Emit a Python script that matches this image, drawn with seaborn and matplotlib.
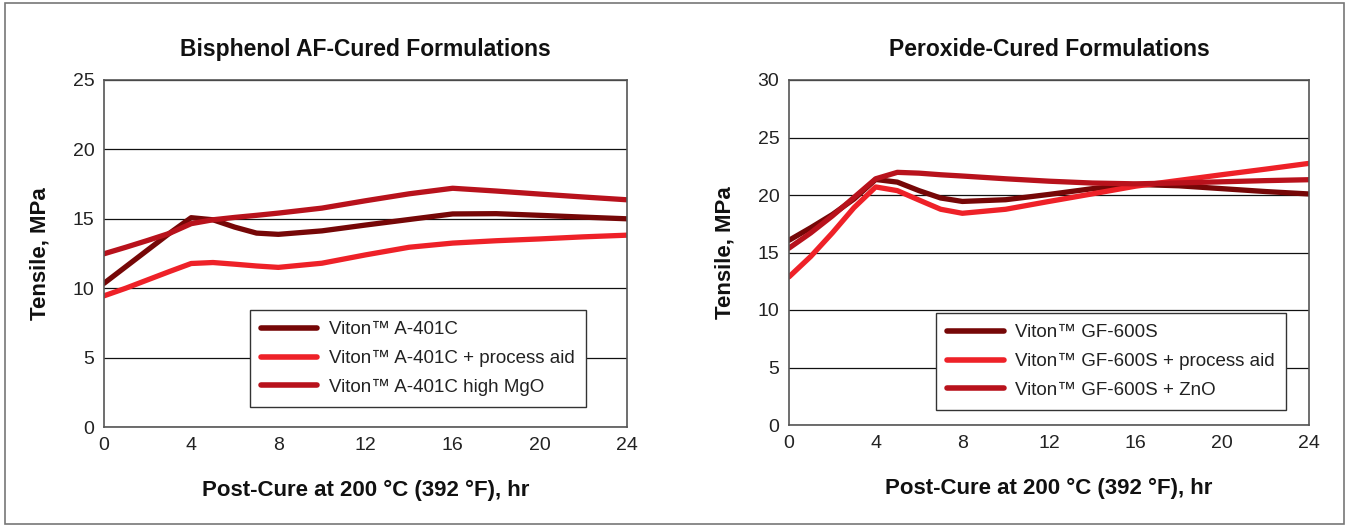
import matplotlib
matplotlib.use("Agg")
import matplotlib.pyplot as plt
import seaborn as sns
import pandas as pd
from matplotlib.patches import Rectangle

hours = [0, 1, 2, 3, 4, 5, 6, 7, 8, 10, 12, 14, 16, 18, 20, 22, 24]

# Bisphenol AF-cured formulations (tensile, MPa)
a401c = [10.35, 11.55, 12.75, 13.95, 15.08, 14.93, 14.4, 13.97, 13.88, 14.13, 14.55,
         14.95, 15.35, 15.37, 15.25, 15.12, 15.0]
a401c_aid = [9.45, 10.0, 10.6, 11.2, 11.78, 11.85, 11.73, 11.6, 11.5, 11.8, 12.4,
             12.95, 13.25, 13.42, 13.55, 13.7, 13.82]
a401c_mgo = [12.48, 12.95, 13.44, 13.95, 14.65, 14.93, 15.1, 15.25, 15.41, 15.77, 16.3,
             16.8, 17.2, 17.0, 16.78, 16.57, 16.37]

# Peroxide-cured formulations (tensile, MPa)
gf600s = [16.06, 17.15, 18.3, 19.65, 21.35, 21.12, 20.38, 19.74, 19.44, 19.59, 20.05,
          20.55, 20.92, 20.8, 20.55, 20.3, 20.09]
gf600s_aid = [12.88, 14.65, 16.7, 18.9, 20.7, 20.38, 19.56, 18.76, 18.41, 18.76, 19.44,
              20.1, 20.77, 21.27, 21.77, 22.25, 22.75]
gf600s_zno = [15.38, 16.7, 18.18, 19.79, 21.41, 21.97, 21.9, 21.76, 21.65, 21.41, 21.2,
              21.04, 20.97, 21.05, 21.15, 21.25, 21.33]

left_names = ["Viton\u2122 A-401C", "Viton\u2122 A-401C + process aid", "Viton\u2122 A-401C high MgO"]
right_names = ["Viton\u2122 GF-600S", "Viton\u2122 GF-600S + process aid", "Viton\u2122 GF-600S + ZnO"]
colors = ["#760707", "#ee2128", "#b8121c"]

x_ticks = [0, 4, 8, 12, 16, 20, 24]
left_yticks = [0, 5, 10, 15, 20, 25]
right_yticks = [0, 5, 10, 15, 20, 25, 30]

left_title = "Bisphenol AF-Cured Formulations"
right_title = "Peroxide-Cured Formulations"
x_label = "Post-Cure at 200 \u00b0C (392 \u00b0F), hr"
y_label = "Tensile, MPa"


def long_df(names, series):
    rows = []
    for n, s in zip(names, series):
        for h, v in zip(hours, s):
            rows.append({"hr": h, "val": v, "series": n})
    return pd.DataFrame(rows)


sns.set_theme(style="white")
plt.rcParams["font.family"] = ["Liberation Sans", "DejaVu Sans"]

fig = plt.figure(figsize=(13.48, 5.27), dpi=100)
fig.patches.append(Rectangle((0.004, 0.006), 0.993, 0.988, transform=fig.transFigure,
                             fill=False, edgecolor="#777777", linewidth=1.2))

ax1 = fig.add_axes([104/1348, 1-427/527, (627-104)/1348, (427-80)/527])
ax2 = fig.add_axes([789/1348, 1-425/527, (1309-789)/1348, (425-80)/527])

panels = [
    (ax1, left_names, [a401c, a401c_aid, a401c_mgo], left_yticks, 25, left_title, (0.279, 0.057)),
    (ax2, right_names, [gf600s, gf600s_aid, gf600s_zno], right_yticks, 30, right_title, (0.283, 0.043)),
]

for ax, names, series, yt, ymax, title, lpos in panels:
    df = long_df(names, series)
    sns.lineplot(data=df, x="hr", y="val", hue="series", palette=colors,
                 linewidth=3.8, ax=ax, legend=True, solid_capstyle="round",
                 solid_joinstyle="round")
    ax.set_xlim(0, 24)
    ax.set_ylim(0, ymax)
    ax.set_xticks(x_ticks)
    ax.set_yticks(yt)
    ax.tick_params(axis="both", labelsize=14, length=0, pad=7, colors="#222222")
    ax.grid(axis="y", color="#111111", linewidth=0.9)
    ax.grid(axis="x", visible=False)
    ax.set_axisbelow(True)
    for sp in ax.spines.values():
        sp.set_color("#555555")
        sp.set_linewidth(1.2)
    ax.set_title(title, fontsize=16.5, fontweight="bold", pad=17, color="#111111")
    ax.set_xlabel(x_label, fontsize=16, fontweight="bold", labelpad=19, color="#111111")
    ax.set_ylabel(y_label, fontsize=16, fontweight="bold", labelpad=16, color="#111111")
    leg = ax.legend(loc="lower left", bbox_to_anchor=lpos, fontsize=13.5, frameon=True,
                    fancybox=False, framealpha=1, edgecolor="#333333",
                    handlelength=3.0, borderpad=0.6, labelspacing=0.62, handletextpad=0.6,
                    borderaxespad=0)
    leg.get_frame().set_linewidth(1.0)
    for h in leg.get_lines():
        h.set_linewidth(4)
        h.set_solid_capstyle("round")
    for t in leg.get_texts():
        t.set_color("#222222")

fig.savefig("out.png", dpi=100)
